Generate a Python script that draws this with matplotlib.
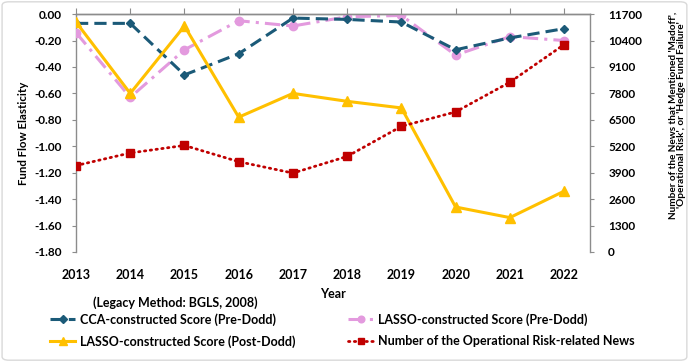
import numpy as np
import matplotlib as mpl
import matplotlib.pyplot as plt
from matplotlib.patches import FancyBboxPatch

years = [2013, 2014, 2015, 2016, 2017, 2018, 2019, 2020, 2021, 2022]
cca_pre = [-0.07, -0.07, -0.46, -0.30, -0.03, -0.04, -0.06, -0.27, -0.18, -0.11]
lasso_pre = [-0.14, -0.63, -0.27, -0.05, -0.09, -0.02, -0.01, -0.31, -0.17, -0.20]
lasso_post = [-0.06, -0.60, -0.09, -0.78, -0.60, -0.66, -0.71, -1.46, -1.54, -1.34]
news_count = [4250, 4870, 5240, 4440, 3880, 4700, 6180, 6890, 8350, 10200]

left_ticks = np.arange(-1.8, 0.01, 0.2)
right_ticks = np.arange(0, 11701, 1300)

plt.rcParams['font.family'] = ['Lato', 'DejaVu Sans']
plt.rcParams['font.weight'] = 'bold'

TEAL = '#1b5a78'
PINK = '#e39ade'
GOLD = '#ffc000'
RED = '#c00000'
GRID = '#8c8c8c'
FS = 9

fig = plt.figure(figsize=(6.91, 3.62), dpi=100)
ax = fig.add_axes([0.110, 0.304, 0.744, 0.657])
ax2 = ax.twinx()

l1, = ax.plot(years, cca_pre, color=TEAL, lw=2.2, dashes=(4, 2), marker='D', ms=4.5,
              label='CCA-constructed Score (Pre-Dodd)', zorder=4)
l2, = ax.plot(years, lasso_pre, color=PINK, lw=2.2, dashes=(5, 2, 1, 2), marker='o', ms=6,
              label='LASSO-constructed Score (Pre-Dodd)', zorder=3)
l3, = ax.plot(years, lasso_post, color=GOLD, lw=2.2, marker='^', ms=6.5,
              label='LASSO-constructed Score (Post-Dodd)', zorder=5)
l4, = ax2.plot(years, news_count, color=RED, lw=2.0, linestyle=(0, (0.5, 1.6)),
               dash_capstyle='round', marker='s', ms=6,
               label='Number of the Operational Risk-related News')

ax.set_xlim(2013, 2022.48)
ax.set_ylim(-1.8, 0)
ax2.set_ylim(0, 11700)
ax.set_yticks(left_ticks)
ax.yaxis.set_major_formatter(mpl.ticker.FuncFormatter(lambda v, p: f'{v:.2f}'.replace('-0.00', '0.00')))
ax2.set_yticks(right_ticks)
ax.set_xticks(years)

for a in (ax, ax2):
    for s in a.spines.values():
        s.set_color(GRID)
        s.set_linewidth(1)
    a.spines['bottom'].set_visible(False)
ax.spines['right'].set_visible(False)
ax2.spines['left'].set_visible(False)

ax.tick_params(axis='x', bottom=False, top=True, labelbottom=True, labeltop=False,
               direction='out', length=4, color=GRID, labelsize=FS, pad=8)
ax.tick_params(axis='y', direction='out', length=3, color=GRID, labelsize=8.5, pad=7)
ax2.tick_params(axis='y', direction='out', length=3, color=GRID, labelsize=8.5, pad=10)
ax2.tick_params(axis='x', top=False, bottom=False)

ax.set_xlabel('Year', fontsize=FS, fontweight='bold', labelpad=5)
ax.set_ylabel('Fund Flow Elasticity', fontsize=8.3, fontweight='bold')
ax.yaxis.set_label_coords(-0.092, 0.5)
ax2.set_ylabel("Number of the News that Mentioned 'Madoff',\n'Operational Risk', or 'Hedge Fund Failure'",
               fontsize=7.2, fontweight='bold', linespacing=0.95)
ax2.yaxis.set_label_coords(1.153, 0.576)

fig.text(0.253, 0.163, '(Legacy Method: BGLS, 2008)', ha='center', va='center',
         fontsize=FS, fontweight='bold')

fig.legend(handles=[l1, l3, l2, l4], ncol=2, loc='upper left',
           bbox_to_anchor=(0.073, 0.135), frameon=False, fontsize=FS, markerscale=0.8,
           handlelength=2.0, handletextpad=0.4, columnspacing=4.2, labelspacing=0.75,
           borderaxespad=0, borderpad=0)

fig.patches.append(FancyBboxPatch((0.003, 0.005), 0.991, 0.99, boxstyle='round,pad=0,rounding_size=0.01',
                                  transform=fig.transFigure, fill=False, edgecolor='#d9d9d9', lw=1))

fig.savefig('out.png', dpi=100)
